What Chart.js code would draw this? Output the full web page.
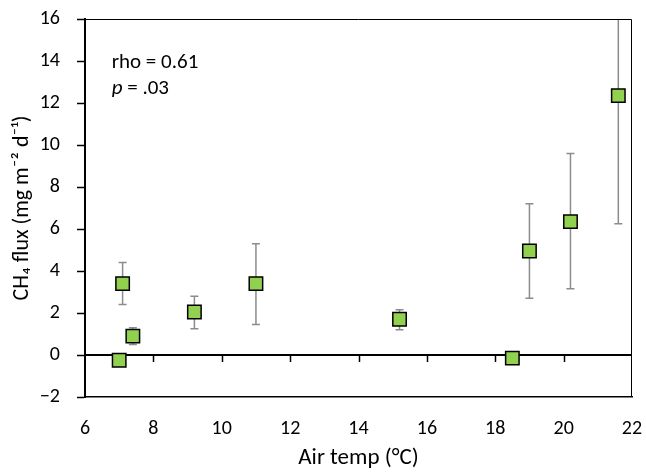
<!DOCTYPE html>
<html>
<head>
<meta charset="utf-8">
<script src="https://cdn.jsdelivr.net/npm/chart.js@4/dist/chart.umd.min.js"></script>
<style>
  html, body { margin: 0; padding: 0; background: #fff; }
</style>
</head>
<body>
<canvas id="chartCanvas" width="646" height="472"></canvas>
<script>
// data
const airTemp = [7.0, 7.1, 7.4, 9.2, 11.0, 15.2, 18.5, 19.0, 20.2, 21.6];
const ch4Flux = [-0.25, 3.4, 0.9, 2.05, 3.4, 1.7, -0.15, 4.95, 6.35, 12.35];
const errLow = [null, 2.4, 0.5, 1.25, 1.45, 1.2, null, 2.7, 3.15, 6.25];
const errHigh = [null, 4.4, 1.3, 2.8, 5.3, 2.15, null, 7.2, 9.6, 18.5];
const xTicks = [6, 8, 10, 12, 14, 16, 18, 20, 22];
const yTicks = [-2, 0, 2, 4, 6, 8, 10, 12, 14, 16];
const statLines = ['rho = 0.61', 'p = .03'];

const FONT = 'Carlito, Lato, sans-serif';
const points = airTemp.map((x, i) => ({ x: x, y: ch4Flux[i] }));

// error bars, frame, zero line with ticks, stats text
const extras = {
  id: 'extras',
  beforeDatasetsDraw(chart) {
    const { ctx, chartArea: a, scales: { x, y } } = chart;
    ctx.save();
    ctx.beginPath();
    ctx.rect(a.left, a.top, a.right - a.left, a.bottom - a.top);
    ctx.clip();
    ctx.strokeStyle = '#8c8c8c';
    ctx.lineWidth = 1.5;
    airTemp.forEach((t, i) => {
      if (errLow[i] == null) return;
      const px = x.getPixelForValue(t);
      const lo = y.getPixelForValue(errLow[i]);
      const hi = y.getPixelForValue(errHigh[i]);
      ctx.beginPath();
      ctx.moveTo(px, lo); ctx.lineTo(px, hi);
      ctx.moveTo(px - 4, lo); ctx.lineTo(px + 4, lo);
      ctx.moveTo(px - 4, hi); ctx.lineTo(px + 4, hi);
      ctx.stroke();
    });
    ctx.restore();

    // zero line
    ctx.save();
    const y0 = Math.round(y.getPixelForValue(0));
    ctx.strokeStyle = '#000';
    ctx.lineWidth = 2;
    ctx.beginPath();
    ctx.moveTo(a.left, y0); ctx.lineTo(a.right, y0);
    ctx.stroke();
    ctx.lineWidth = 1.5;
    xTicks.slice(1, -1).forEach(t => {
      const px = Math.round(x.getPixelForValue(t)) + 0.5;
      ctx.beginPath();
      ctx.moveTo(px, y0); ctx.lineTo(px, y0 + 7);
      ctx.stroke();
    });
    // frame top/right
    ctx.lineWidth = 1;
    ctx.beginPath();
    ctx.moveTo(a.left, a.top + 0.5); ctx.lineTo(a.right - 0.5, a.top + 0.5);
    ctx.lineTo(a.right - 0.5, a.bottom);
    ctx.stroke();

    // stats
    ctx.fillStyle = '#000';
    ctx.textBaseline = 'middle';
    ctx.textAlign = 'left';
    const tx = x.getPixelForValue(6.78);
    ctx.font = '21px ' + FONT;
    ctx.fillText(statLines[0], tx, y.getPixelForValue(13.9));
    const py = y.getPixelForValue(12.7);
    ctx.font = 'italic 21px ' + FONT;
    ctx.fillText('p', tx, py);
    const w = ctx.measureText('p').width;
    ctx.font = '21px ' + FONT;
    ctx.fillText(statLines[1].slice(1), tx + w, py);
    ctx.restore();
  }
};

new Chart(document.getElementById('chartCanvas'), {
  type: 'scatter',
  data: {
    datasets: [{
      data: points,
      pointStyle: 'rect',
      pointRadius: 9.5,
      pointHoverRadius: 9.5,
      backgroundColor: '#92d050',
      borderColor: '#000',
      borderWidth: 1.5
    }]
  },
  options: {
    responsive: false,
    animation: false,
    events: [],
    layout: { padding: { top: 19, right: 14, left: 0, bottom: 0 } },
    plugins: {
      legend: { display: false },
      tooltip: { enabled: false }
    },
    scales: {
      x: {
        type: 'linear',
        min: 6,
        max: 22,
        afterBuildTicks: axis => { axis.ticks = xTicks.map(v => ({ value: v })); },
        afterFit: axis => {
          axis.height = 75;
          axis.paddingLeft = 0;
          axis.paddingRight = 0;
        },
        grid: { drawOnChartArea: false, drawTicks: false },
        border: { color: '#000', width: 1.5 },
        ticks: { color: '#000', padding: 20, font: { family: FONT, size: 20 } },
        title: {
          display: true,
          text: 'Air temp (°C)',
          color: '#000',
          padding: { top: 0, bottom: 0 },
          font: { family: FONT, size: 23 }
        }
      },
      y: {
        min: -2,
        max: 16,
        afterBuildTicks: axis => { axis.ticks = yTicks.map(v => ({ value: v })); },
        afterFit: axis => {
          axis.width = 85;
          axis.paddingTop = 0;
          axis.paddingBottom = 0;
        },
        grid: { drawOnChartArea: false, tickLength: 8, color: '#000', tickWidth: 1.5 },
        border: { color: '#000', width: 2 },
        ticks: {
          color: '#000',
          padding: 17,
          font: { family: FONT, size: 20 },
          callback: v => (v < 0 ? '\u2212' + Math.abs(v) : String(v))
        },
        title: {
          display: true,
          text: 'CH\u2084 flux (mg m\u207B\u00B2 d\u207B\u00B9)',
          color: '#000',
          padding: { top: 9, bottom: 0 },
          font: { family: FONT, size: 22 }
        }
      }
    }
  },
  plugins: [extras]
});
</script>
</body>
</html>
